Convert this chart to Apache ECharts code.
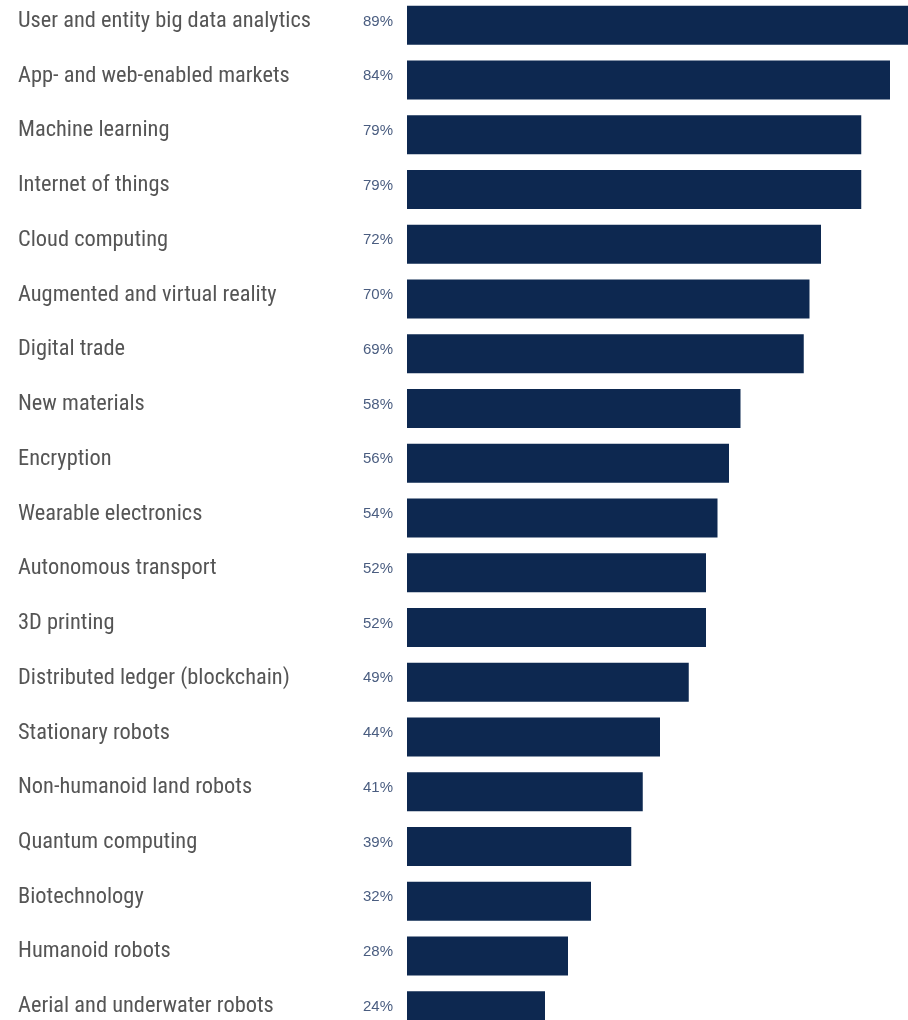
<!DOCTYPE html>
<html><head><meta charset="utf-8">
<script src="https://cdn.jsdelivr.net/npm/echarts@6/dist/echarts.min.js"></script>
<style>html,body{margin:0;padding:0;background:#fff}#c{width:908px;height:1020px}</style>
</head><body><div id="c"></div>
<script>
const categories = ["User and entity big data analytics","App- and web-enabled markets","Machine learning","Internet of things","Cloud computing","Augmented and virtual reality","Digital trade","New materials","Encryption","Wearable electronics","Autonomous transport","3D printing","Distributed ledger (blockchain)","Stationary robots","Non-humanoid land robots","Quantum computing","Biotechnology","Humanoid robots","Aerial and underwater robots"];
const values = [89,84,79,79,72,70,69,58,56,54,52,52,49,44,41,39,32,28,24];
const chart = echarts.init(document.getElementById('c'));
chart.setOption({
  animation:false,
  grid:{left:407, top:-2, width:575, height:1040, containLabel:false, outerBoundsMode:'none'},
  xAxis:{type:'value', min:0, max:100, show:false},
  yAxis:{type:'category', data:categories, inverse:true,
    axisLine:{show:false}, axisTick:{show:false}, splitLine:{show:false},
    axisLabel:{align:'left', verticalAlign:'bottom', lineHeight:8, margin:389, color:'#555555', fontFamily:'Roboto Condensed, sans-serif', fontSize:22.4}},
  series:[{type:'bar', data:values, barWidth:39, clip:false,
    itemStyle:{color:'#0d2850'},
    label:{show:true, position:'left', distance:14, offset:[0,-4], formatter:'{c}%', color:'#4a5d80', fontSize:15, fontFamily:'Liberation Sans, Arial, sans-serif'}}]
});
</script></body></html>
